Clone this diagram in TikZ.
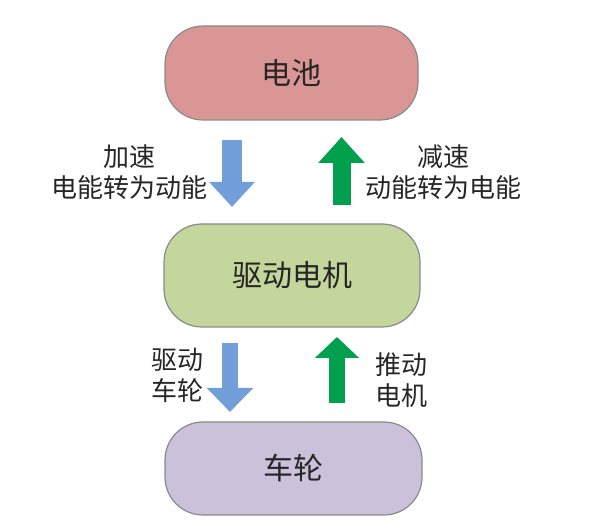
\documentclass[tikz,border=0pt]{standalone}
\usepackage{fontspec}
\setmainfont{Noto Sans CJK SC}
\usetikzlibrary{arrows.meta}
\definecolor{battfill}{HTML}{D99694}
\definecolor{motorfill}{HTML}{C3D69B}
\definecolor{wheelfill}{HTML}{CCC1DA}
\definecolor{boxline}{HTML}{8A8A8A}
\definecolor{downblue}{HTML}{729ED9}
\definecolor{upgreen}{HTML}{00A04E}
\definecolor{txt}{HTML}{262626}
\tikzset{
  part/.style={draw=boxline,line width=1.2pt,rounded corners=38pt,text=txt,font=\fontsize{30}{32}\selectfont},
  sidetext/.style={text=txt,align=center,font=\fontsize{26}{31}\selectfont},
  downarrow/.style={color=downblue,line width=#1},
  uparrow/.style={color=upgreen,line width=#1}
}
\begin{document}
\begin{tikzpicture}[x=1pt,y=-1pt]
        \useasboundingbox (0,0) rectangle (590,529);
        \node[part,fill=battfill,minimum width=253pt,minimum height=94pt] (battery) at (291.5,73) {电池};
        \node[part,fill=motorfill,minimum width=256pt,minimum height=103pt] (motor) at (292,275.5) {驱动电机};
        \node[part,fill=wheelfill,minimum width=257pt,minimum height=93pt] (wheel) at (293.5,468.5) {车轮};
        % battery <-> motor
        \coordinate (acc top) at (232,140);
        \coordinate (acc tip) at (232,207);
        \coordinate (dec bot) at (341.5,205);
        \coordinate (dec tip) at (341.5,137);
        \draw[downarrow=20pt,-{Triangle[width=44pt,length=25pt]}] (acc top) -- (acc tip);
        \draw[uparrow=18pt,-{Triangle[width=45pt,length=26pt]}] (dec bot) -- (dec tip);
        \node[sidetext] (acc) at (130,172) {加速\\电能转为动能};
        \node[sidetext] (dec) at (443,172) {减速\\动能转为电能};
        % motor <-> wheel
        \coordinate (drv top) at (230,343);
        \coordinate (drv tip) at (230,412);
        \coordinate (push bot) at (337,403);
        \coordinate (push tip) at (337,337);
        \draw[downarrow=16pt,-{Triangle[width=45pt,length=24pt]}] (drv top) -- (drv tip);
        \draw[uparrow=16pt,-{Triangle[width=43pt,length=21pt]}] (push bot) -- (push tip);
        \node[sidetext] (drv) at (177,375) {驱动\\车轮};
        \node[sidetext] (push) at (401,380) {推动\\电机};
    \end{tikzpicture}
\end{document}
